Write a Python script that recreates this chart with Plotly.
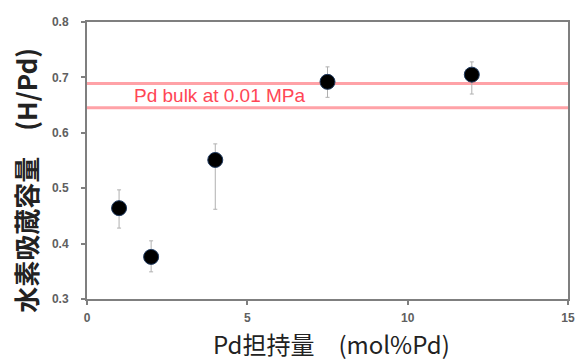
import plotly.graph_objects as go

pd_loading = [1, 2, 4, 7.5, 12]
h_pd = [0.464, 0.376, 0.551, 0.692, 0.705]
err_plus = [0.033, 0.029, 0.029, 0.027, 0.023]
err_minus = [0.036, 0.027, 0.089, 0.028, 0.035]
bulk_lines = [0.689, 0.645]
bulk_label = "Pd bulk at 0.01 MPa"
x_ticks = [0, 5, 10, 15]
y_ticks = [0.3, 0.4, 0.5, 0.6, 0.7, 0.8]
x_title = "Pd担持量　(mol%Pd)"
y_title = "水素吸蔵容量　(H/Pd)"

fig = go.Figure()
for yv in bulk_lines:
    fig.add_shape(type="line", xref="x", yref="y", x0=0, x1=15, y0=yv, y1=yv,
                  line=dict(color="rgba(255,70,80,0.5)", width=3), layer="below")
fig.add_annotation(x=1.4, y=0.667, xref="x", yref="y", text=bulk_label, showarrow=False,
                   xanchor="left", yanchor="middle",
                   font=dict(family="Liberation Sans, Arial", size=19, color="#ff4655"))

fig.add_trace(go.Scatter(
    x=pd_loading, y=h_pd, mode="markers",
    marker=dict(size=15, color="black", line=dict(color="#1f3a60", width=1)),
    error_y=dict(type="data", symmetric=False, array=err_plus, arrayminus=err_minus,
                 color="#b0b0b0", thickness=1, width=2),
    showlegend=False))

axis_common = dict(showgrid=False, zeroline=False, showline=True, mirror=True,
                   linecolor="#7f7f7f", linewidth=2, ticks="outside", ticklen=4,
                   tickcolor="#7f7f7f", tickwidth=1.5, automargin=False,
                   ticklabeloverflow="allow",
                   tickfont=dict(family="Liberation Sans, Arial", size=12, color="#606060",
                                 weight="bold"))

fig.update_xaxes(range=[0, 15], tickvals=x_ticks, ticktext=[str(v) for v in x_ticks],
                 ticklabelstandoff=3, **axis_common)
fig.update_yaxes(range=[0.3, 0.8], tickvals=y_ticks, ticktext=[f"{v:.1f}" for v in y_ticks],
                 ticklabelstandoff=10, **axis_common)

fig.add_annotation(xref="paper", yref="paper", x=0.508, y=-0.231, text=x_title,
                   showarrow=False, xanchor="center", yanchor="bottom",
                   font=dict(family="Noto Sans CJK JP", size=24, color="#222222"))
fig.add_annotation(xref="paper", yref="paper", x=-0.127, y=0.43, text=y_title,
                   showarrow=False, xanchor="center", yanchor="middle", textangle=-90,
                   font=dict(family="Noto Sans CJK JP", size=26, color="#222222", weight="bold"))

fig.update_layout(width=577, height=363, margin=dict(l=87, r=9, t=22, b=64),
                  plot_bgcolor="white", paper_bgcolor="white")

fig.write_html("out.html", config={"displayModeBar": False},
               post_script="document.body.style.margin='0';document.body.style.overflow='hidden';")
